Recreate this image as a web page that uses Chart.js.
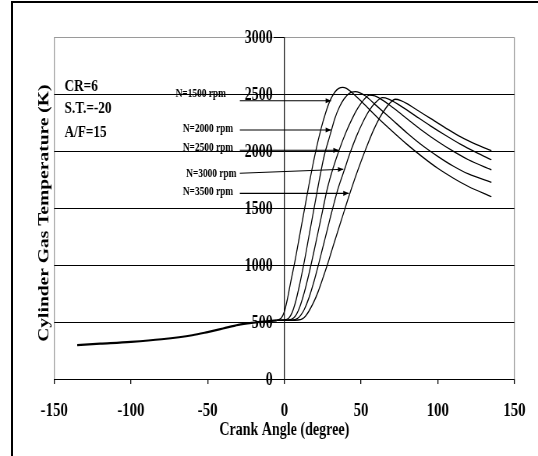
<!DOCTYPE html>
<html>
<head>
<meta charset="utf-8">
<script src="https://cdn.jsdelivr.net/npm/chart.js@4.4.1/dist/chart.umd.min.js"></script>
<style>
  html, body { margin: 0; padding: 0; background: #fff; overflow: hidden; }
  #wrap { position: relative; width: 538px; height: 456px; overflow: hidden; background: #fff; }
  #c { position: absolute; left: 0; top: 0; }
  #frame { position: absolute; left: 11px; top: 1px; width: 640px; height: 600px;
           border-left: 2px solid #000; border-top: 2px solid #000; pointer-events: none; }
</style>
</head>
<body>
<div id="wrap">
  <!-- drawn 690 wide and shown 538 wide: condensed Times look -->
  <canvas id="c" width="690" height="456" style="width:538px;height:456px"></canvas>
  <div id="frame"></div>
</div>
<script>
// ---- axis ticks ----
const angleTicks = [-150, -100, -50, 0, 50, 100, 150];
const tempTicks = [0, 500, 1000, 1500, 2000, 2500, 3000];

// ---- compression stroke (common to all speeds) ----
const compressionAngle = [-135, -120, -100, -80, -60, -50, -40, -30, -20, -10, -5];
const compressionTemp  = [298, 310, 326, 349, 384, 412, 443, 475, 494, 508, 515];

// ---- combustion / expansion, one series per engine speed ----
const speedLabels = ['N=1500 rpm', 'N=2000 rpm', 'N=2500 rpm', 'N=3000 rpm', 'N=3500 rpm'];

const angle1500 = [-5, -2, 0, 2, 4, 7, 10, 13, 16, 20, 24, 27, 30, 33, 35.5, 38, 40.5, 44, 50, 60, 70, 80, 90, 100, 110, 120, 135];
const temp1500  = [515, 535, 590, 700, 840, 1040, 1260, 1480, 1700, 1970, 2200, 2340, 2450, 2520, 2552, 2561, 2552, 2515, 2440, 2305, 2180, 2060, 1950, 1850, 1765, 1690, 1600];

const angle2000 = [-5, 0, 3, 5, 7, 10, 13, 16, 19, 22, 26, 30, 33, 36, 39, 42, 44, 46.3, 49, 53, 60, 70, 80, 90, 100, 110, 120, 135];
const temp2000  = [515, 518, 535, 580, 660, 830, 1030, 1250, 1470, 1690, 1960, 2150, 2290, 2390, 2460, 2505, 2518, 2523, 2515, 2485, 2400, 2280, 2160, 2050, 1955, 1870, 1800, 1726];

const angle2500 = [-5, 3, 6, 8, 10, 13, 16, 19, 22, 25, 28, 32, 36, 40, 44, 48, 52, 55.4, 59, 65, 72, 80, 90, 100, 110, 120, 135];
const temp2500  = [515, 518, 535, 570, 630, 760, 920, 1100, 1290, 1480, 1670, 1860, 2020, 2160, 2280, 2380, 2455, 2493, 2485, 2440, 2370, 2285, 2180, 2085, 2000, 1925, 1837];

const angle3000 = [-5, 6, 9, 11, 13, 16, 19, 22, 25, 28, 31, 35, 39, 43, 47, 51, 55, 59, 64, 68, 75, 85, 95, 105, 115, 125, 135];
const temp3000  = [515, 518, 535, 565, 610, 710, 840, 990, 1150, 1310, 1470, 1670, 1830, 1990, 2130, 2250, 2350, 2420, 2470, 2458, 2405, 2315, 2225, 2140, 2060, 1990, 1925];

const angle3500 = [-5, 9, 12, 14, 16, 19, 22, 25, 28, 31, 34, 38, 42, 46, 50, 54, 58, 62, 66, 69, 72.3, 76, 80, 85, 95, 105, 115, 125, 135];
const temp3500  = [515, 518, 530, 555, 595, 670, 765, 880, 1000, 1130, 1260, 1430, 1600, 1760, 1910, 2050, 2180, 2290, 2375, 2425, 2456, 2445, 2418, 2375, 2290, 2205, 2125, 2060, 2005];

// ---- speed labels and their pointer arrows (data units) ----
const labelRightX = [-38.1, -33.4, -33.4, -31.2, -33.4];
const labelY      = [2502, 2195, 2025, 1800, 1639];
const arrowStartX = -29;
const arrowStartY = [2443, 2186, 2008, 1806, 1630];
const arrowEndX   = [30.5, 30.5, 35.5, 38.5, 42];
const arrowEndY   = [2443, 2186, 2008, 1841, 1630];

// ---- operating conditions note ----
const noteLines = ['CR=6', 'S.T.=-20', 'A/F=15'];
const noteX = -143.3;
const noteY = [2566, 2370, 2164];

const SERIF = "'Liberation Serif', 'Times New Roman', Times, serif";
const EDGE = '#9a9a9a';

const toPoints = (xs, ys) => xs.map((x, i) => ({ x, y: ys[i] }));

const speedAngles = [angle1500, angle2000, angle2500, angle3000, angle3500];
const speedTemps  = [temp1500, temp2000, temp2500, temp3000, temp3500];

const datasets = [];
datasets.push({
  label: 'compression',
  data: toPoints(compressionAngle, compressionTemp),
  borderColor: '#000', borderWidth: 2.2, pointRadius: 0,
  cubicInterpolationMode: 'monotone', fill: false
});
speedLabels.forEach((name, i) => {
  datasets.push({
    label: name,
    data: toPoints(speedAngles[i], speedTemps[i]),
    borderColor: '#000', borderWidth: 1.3, pointRadius: 0,
    cubicInterpolationMode: 'monotone', fill: false
  });
});
speedLabels.forEach((name, i) => {
  datasets.push({
    label: name + ' pointer',
    isArrow: true,
    data: [{ x: arrowStartX, y: arrowStartY[i] }, { x: arrowEndX[i], y: arrowEndY[i] }],
    borderColor: '#000', borderWidth: 1.1, pointRadius: 0, tension: 0, fill: false
  });
});

// arrowheads on the pointer lines
const arrowHeads = {
  id: 'arrowHeads',
  afterDatasetsDraw(chart) {
    const ctx = chart.ctx;
    chart.data.datasets.forEach((ds, i) => {
      if (!ds.isArrow) return;
      const pts = chart.getDatasetMeta(i).data;
      const a = pts[pts.length - 2], b = pts[pts.length - 1];
      const ang = Math.atan2(b.y - a.y, b.x - a.x);
      const len = 7, half = 2.6;
      ctx.save();
      ctx.translate(b.x, b.y);
      ctx.rotate(ang);
      ctx.beginPath();
      ctx.moveTo(0, 0);
      ctx.lineTo(-len, -half);
      ctx.lineTo(-len, half);
      ctx.closePath();
      ctx.fillStyle = '#000';
      ctx.fill();
      ctx.restore();
    });
  }
};

// temperature tick labels sit left of the axis at 0 deg; plus texts inside the plot
const figureText = {
  id: 'figureText',
  afterDraw(chart) {
    const { ctx, chartArea } = chart;
    const xs = chart.scales.x, ys = chart.scales.y;
    const axisX = xs.getPixelForValue(0);
    ctx.save();
    ctx.fillStyle = '#000';

    ctx.font = 'bold 18px ' + SERIF;
    ctx.textAlign = 'right';
    ctx.textBaseline = 'middle';
    tempTicks.forEach(v => {
      ctx.fillText(String(v), axisX - 15, ys.getPixelForValue(v) + 1);
    });

    ctx.font = 'bold 12px ' + SERIF;
    speedLabels.forEach((t, i) => {
      ctx.fillText(t, xs.getPixelForValue(labelRightX[i]), ys.getPixelForValue(labelY[i]));
    });

    ctx.font = 'bold 17px ' + SERIF;
    ctx.textAlign = 'left';
    noteLines.forEach((t, i) => {
      ctx.fillText(t, xs.getPixelForValue(noteX), ys.getPixelForValue(noteY[i]));
    });

    ctx.translate(chartArea.left - 13, (chartArea.top + chartArea.bottom) / 2 + 5);
    ctx.rotate(-Math.PI / 2);
    ctx.textAlign = 'center';
    ctx.font = 'bold 19.5px ' + SERIF;
    ctx.fillText('Cylinder Gas Temperature (K)', 0, 0);
    ctx.restore();
  }
};

new Chart(document.getElementById('c'), {
  type: 'line',
  data: { datasets },
  plugins: [arrowHeads, figureText],
  options: {
    responsive: false,
    animation: false,
    devicePixelRatio: 1,
    layout: { padding: { left: 69.5, right: 28.2, top: 37.3, bottom: 0 } },
    plugins: { legend: { display: false }, tooltip: { enabled: false } },
    scales: {
      x: {
        type: 'linear', position: 'bottom',
        min: angleTicks[0], max: angleTicks[angleTicks.length - 1],
        afterBuildTicks: s => { s.ticks = angleTicks.map(v => ({ value: v })); },
        ticks: { color: '#000', padding: 16, maxRotation: 0, autoSkip: false,
                 callback: v => String(v),
                 font: { family: SERIF, size: 19, weight: 'bold' } },
        grid: {
          drawOnChartArea: true,
          color: c => (c.tick && Math.abs(c.tick.value) === 150) ? EDGE : 'rgba(0,0,0,0)',
          lineWidth: 1.3, tickLength: 5, tickColor: '#000', tickWidth: 1.3
        },
        border: { display: true, color: '#000', width: 1 },
        title: { display: true, text: 'Crank Angle (degree)', color: '#000',
                 font: { family: SERIF, size: 18, weight: 'bold' },
                 padding: { top: 0, bottom: 15 } },
        afterFit: s => { s.height = 77; }
      },
      y: {
        type: 'linear', position: { x: 0 },
        min: tempTicks[0], max: tempTicks[tempTicks.length - 1],
        afterBuildTicks: s => { s.ticks = tempTicks.map(v => ({ value: v })); },
        ticks: { display: false },
        grid: {
          color: c => (c.tick && c.tick.value === 3000) ? EDGE : '#000',
          lineWidth: 1, tickLength: 13, tickColor: '#000', tickWidth: 1
        },
        border: { display: true, color: '#111', width: 1.3 }
      }
    }
  }
});
</script>
</body>
</html>
